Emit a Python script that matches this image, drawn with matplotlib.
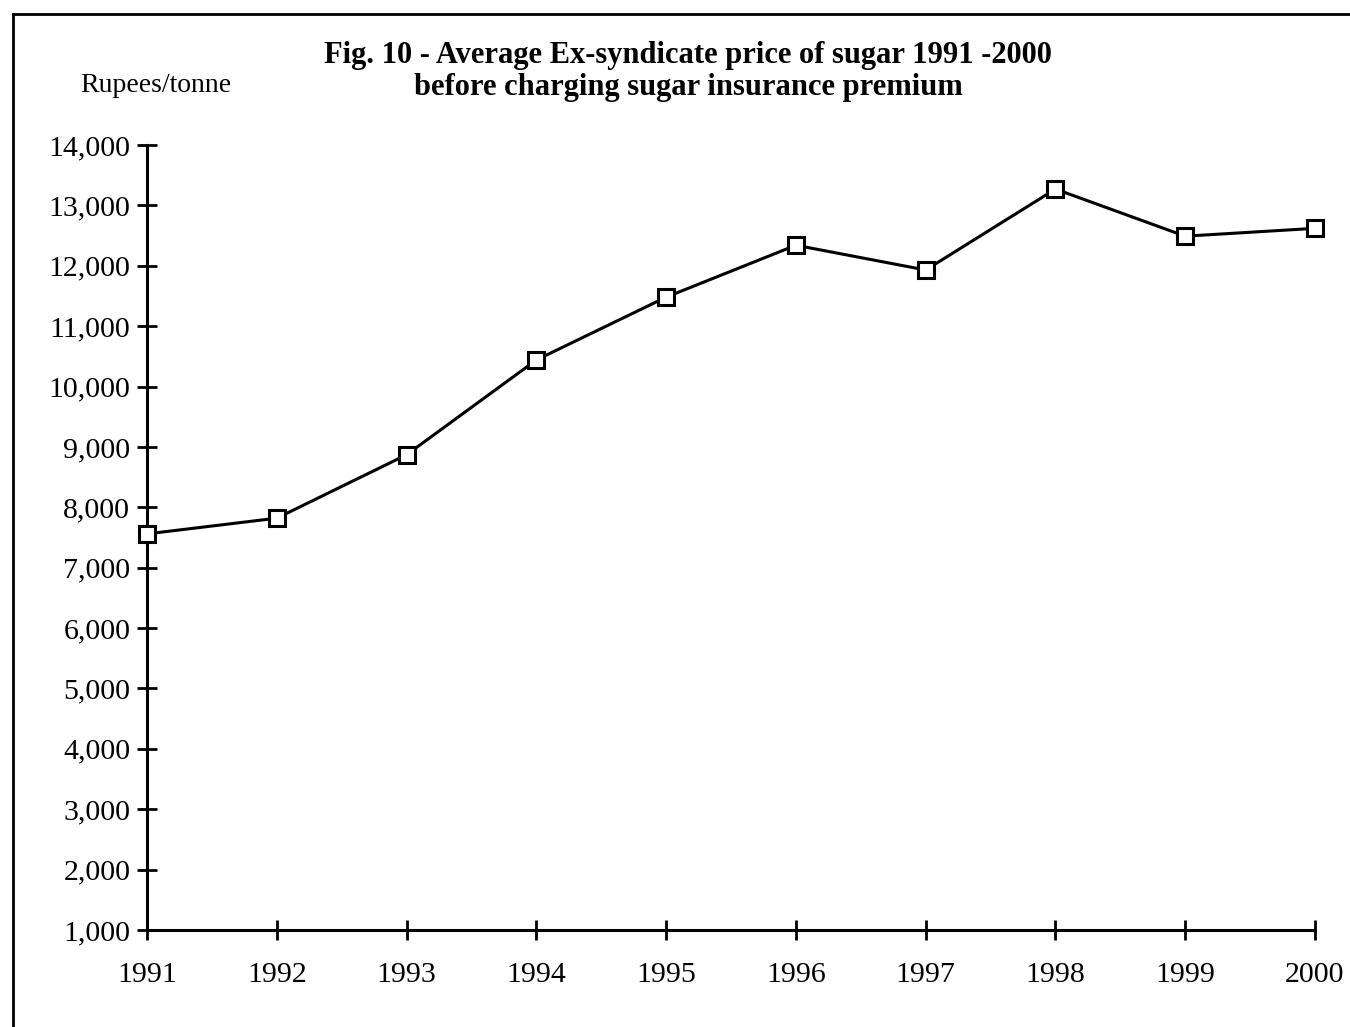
import matplotlib
matplotlib.use("Agg")
import matplotlib.pyplot as plt
from matplotlib.ticker import FuncFormatter
from matplotlib.lines import Line2D

years = [1991, 1992, 1993, 1994, 1995, 1996, 1997, 1998, 1999, 2000]
prices = [7560, 7820, 8870, 10440, 11480, 12340, 11930, 13270, 12490, 12620]
yticks = list(range(1000, 15000, 1000))
title_lines = ["Fig. 10 - Average Ex-syndicate price of sugar 1991 -2000",
               "before charging sugar insurance premium"]
ylabel = "Rupees/tonne"

plt.rcParams['font.family'] = ['Liberation Serif', 'DejaVu Serif']

fig = plt.figure(figsize=(13.5, 10.27), dpi=100)
ax = fig.add_axes([147/1350, 1-930/1027, (1315-147)/1350, (930-145)/1027])

ax.plot(years, prices, color='black', lw=2.2, marker='s', markersize=11,
        markerfacecolor='white', markeredgecolor='black', markeredgewidth=2.2,
        clip_on=False, zorder=5)

ax.set_xlim(1991, 2000)
ax.set_ylim(1000, 14000)
ax.set_xticks(years)
ax.set_yticks(yticks)
ax.yaxis.set_major_formatter(FuncFormatter(lambda v, p: f"{int(v):,}"))
ax.tick_params(axis='both', direction='inout', length=14, width=2,
               labelsize=21.5)
ax.tick_params(axis='x', pad=16)
ax.tick_params(axis='y', pad=5)
for s in ['top', 'right']:
    ax.spines[s].set_visible(False)
for s in ['left', 'bottom']:
    ax.spines[s].set_linewidth(2.2)

fig.text(688/1350, 1-55/1027, title_lines[0], ha='center', va='center',
         fontsize=22, fontweight='bold')
fig.text(688/1350, 1-88/1027, title_lines[1], ha='center', va='center',
         fontsize=22, fontweight='bold')
fig.text(80/1350, 1-85/1027, ylabel, ha='left', va='center', fontsize=20)

# figure border (left and top)
fig.add_artist(Line2D([13/1350, 13/1350], [0, 1-14/1027], transform=fig.transFigure,
                      color='black', lw=2))
fig.add_artist(Line2D([13/1350, 1], [1-14/1027, 1-14/1027], transform=fig.transFigure,
                      color='black', lw=2))

fig.savefig("out.png", dpi=100)
